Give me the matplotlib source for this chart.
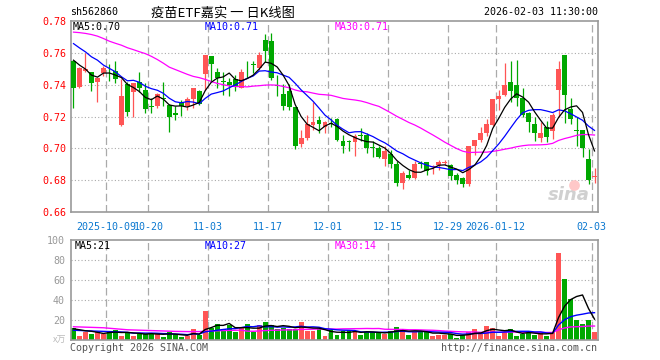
import numpy as np
import pandas as pd
import matplotlib
matplotlib.use('Agg')
import matplotlib.pyplot as plt
from matplotlib.transforms import blended_transform_factory

# ---------------- data ----------------
opens = [0.755, 0.7385, 0.7485, 0.7477, 0.7417, 0.7471, 0.7513, 0.7485, 0.7144, 0.7402,
         0.7352, 0.7415, 0.7367, 0.7265, 0.7267, 0.7317, 0.7273, 0.7225, 0.7288, 0.7267,
         0.7308, 0.736, 0.7465, 0.7577, 0.7477, 0.7419, 0.7415, 0.7433, 0.7381, 0.751,
         0.7529, 0.7506, 0.7683, 0.7673, 0.7398, 0.7344, 0.736, 0.7258, 0.7027, 0.7065,
         0.7148, 0.7175, 0.7133, 0.7158, 0.7183, 0.7044, 0.7042, 0.7037, 0.7079, 0.7081,
         0.7008, 0.7002, 0.6935, 0.6967, 0.6902, 0.6785, 0.6831, 0.6815, 0.6904, 0.6915,
         0.6883, 0.6898, 0.6908, 0.6898, 0.6833, 0.6815, 0.6779, 0.7013, 0.7052, 0.7096,
         0.7148, 0.731, 0.7335, 0.7415, 0.7398, 0.7315, 0.7225, 0.7152, 0.7065, 0.7133,
         0.7106, 0.7367, 0.7585, 0.7248, 0.7112, 0.7115, 0.6933, 0.6821]
closes = [0.738, 0.7505, 0.7498, 0.741, 0.7444, 0.7506, 0.7508, 0.7433, 0.7331, 0.7229,
          0.741, 0.7381, 0.7248, 0.726, 0.7344, 0.7313, 0.7198, 0.7211, 0.7267, 0.7308,
          0.7377, 0.7277, 0.7585, 0.7527, 0.744, 0.7415, 0.7398, 0.7388, 0.7481, 0.7508,
          0.7525, 0.7585, 0.761, 0.7444, 0.7394, 0.7267, 0.726, 0.7017, 0.7065, 0.7152,
          0.7165, 0.7154, 0.7165, 0.7152, 0.7054, 0.7017, 0.7038, 0.7077, 0.7075, 0.7002,
          0.7004, 0.6944, 0.6981, 0.6904, 0.6785, 0.6846, 0.6815, 0.6902, 0.69, 0.686,
          0.6892, 0.6915, 0.6913, 0.6829, 0.6798, 0.6779, 0.7013, 0.7052, 0.7096, 0.7152,
          0.731, 0.7329, 0.7398, 0.736, 0.7315, 0.721, 0.7165, 0.7096, 0.7096, 0.7069,
          0.721, 0.7498, 0.7335, 0.7185, 0.7108, 0.7002, 0.6798, 0.6825]
highs = [0.7555, 0.7508, 0.760, 0.7479, 0.7446, 0.7517, 0.7527, 0.7546, 0.7433, 0.7419,
         0.7412, 0.7477, 0.7408, 0.7315, 0.7348, 0.7415, 0.7277, 0.7263, 0.7304, 0.7325,
         0.7379, 0.7367, 0.7587, 0.7579, 0.7506, 0.7481, 0.744, 0.746, 0.7496, 0.7548,
         0.7548, 0.7606, 0.7717, 0.7727, 0.746, 0.7406, 0.7406, 0.726, 0.7117, 0.721,
         0.7294, 0.7206, 0.7169, 0.719, 0.719, 0.7081, 0.7054, 0.7088, 0.7129, 0.7096,
         0.7044, 0.7013, 0.7013, 0.6992, 0.6919, 0.6856, 0.6867, 0.6919, 0.6923, 0.6917,
         0.6894, 0.6929, 0.6929, 0.69, 0.6846, 0.6817, 0.7017, 0.7054, 0.7131, 0.7183,
         0.7312, 0.7367, 0.7533, 0.7548, 0.7558, 0.7381, 0.7227, 0.7198, 0.7165, 0.7169,
         0.7221, 0.755, 0.7587, 0.7315, 0.72, 0.7117, 0.6998, 0.6877]
lows = [0.7256, 0.738, 0.7478, 0.736, 0.7294, 0.7456, 0.7423, 0.7408, 0.714, 0.7206,
        0.72, 0.7352, 0.7221, 0.7225, 0.7252, 0.7269, 0.71, 0.718, 0.7204, 0.7242,
        0.7256, 0.7275, 0.7367, 0.7423, 0.7381, 0.7335, 0.7331, 0.7358, 0.7379, 0.744,
        0.7471, 0.7492, 0.7544, 0.7429, 0.7329, 0.7242, 0.7242, 0.6996, 0.7008, 0.7054,
        0.7117, 0.7096, 0.7096, 0.7133, 0.7044, 0.6971, 0.6981, 0.695, 0.7044, 0.6971,
        0.6944, 0.6942, 0.6892, 0.6877, 0.6763, 0.6742, 0.681, 0.6808, 0.6877, 0.6831,
        0.684, 0.6863, 0.6894, 0.68, 0.6779, 0.6758, 0.6763, 0.696, 0.704, 0.7075,
        0.714, 0.7242, 0.7329, 0.7294, 0.7263, 0.7196, 0.7102, 0.7048, 0.704, 0.704,
        0.706, 0.72, 0.7158, 0.7152, 0.7013, 0.6948, 0.6777, 0.6783]
volumes = [12.7, 4.3, 8.3, 6.3, 8.3, 6.7, 9.3, 10.3, 4.3, 8.7,
           4.3, 6.7, 6.7, 6.7, 6.7, 3.3, 8.3, 6.0, 3.3, 4.3,
           11.7, 5.3, 29.3, 12.7, 16.0, 11.0, 15.0, 8.3, 12.7, 16.3,
           8.3, 15.0, 18.7, 15.3, 11.3, 12.7, 11.7, 11.7, 18.7, 9.3,
           9.7, 11.0, 4.3, 10.0, 5.3, 9.3, 10.3, 9.3, 5.3, 8.3,
           8.3, 8.3, 6.7, 9.3, 13.3, 11.0, 5.3, 8.3, 8.3, 9.7,
           4.3, 5.3, 5.3, 6.7, 2.7, 5.3, 8.3, 11.7, 8.3, 14.3,
           12.7, 4.3, 8.3, 11.7, 4.3, 6.0, 8.3, 5.3, 8.3, 4.3,
           8.3, 87.5, 61.5, 41.0, 20.0, 16.0, 20.0, 8.5]

# moving-average values before enough history is shown
ma5_head = [0.7554, 0.7523, 0.7498, 0.746]
ma10_head = [0.7658, 0.7631, 0.7606, 0.7575, 0.7554, 0.7523, 0.7502, 0.7481, 0.745]
ma30_head = [0.7730, 0.7727, 0.7722, 0.7715, 0.7705, 0.7690, 0.7673, 0.7660, 0.7648, 0.7632,
             0.7620, 0.7607, 0.7595, 0.7578, 0.7558, 0.7535, 0.7510, 0.7495, 0.7480, 0.7465,
             0.7452, 0.7444, 0.7433, 0.7420, 0.7408, 0.7400, 0.7392, 0.7388, 0.7388]
vma5_head = [11.5, 10.5, 9.5, 9.0]
vma10_head = [10.0, 9.8, 9.5, 9.3, 9.1, 8.9, 8.7, 8.5, 8.3]
vma30_head = [13.5, 13.3, 13.1, 12.9, 12.7, 12.5, 12.0, 11.5, 11.0, 10.5,
              10.3, 10.1, 9.9, 9.7, 9.5, 9.3, 9.1, 8.9, 8.8, 8.7,
              8.7, 8.7, 9.0, 9.3, 9.5, 9.7, 9.9, 10.0, 10.2]

tick_idx = [6, 13, 23, 33, 43, 53, 63, 71, 87]
tick_labels = ['2025-10-09', '10-20', '11-03', '11-17', '12-01', '12-15',
               '12-29', '2026-01-12', '02-03']
price_ticks = [0.66, 0.68, 0.70, 0.72, 0.74, 0.76, 0.78]
vol_ticks = [20, 40, 60, 80, 100]

title = '疫苗ETF嘉实 一 日K线图'
code = 'sh562860'
stamp = '2026-02-03 11:30:00'

# ---------------- helpers ----------------
def mov(vals, n, head):
    s = pd.Series(vals, dtype=float).rolling(n).mean().to_numpy()
    s[:n - 1] = head
    return s

RED = '#ff5555'
GREEN = '#00a800'
GRID = '#aaaaaa'
FRAME = '#999999'
MONO = 'DejaVu Sans Mono'
FS = 7.2

n = len(closes)
x = np.arange(n)
o = np.array(opens); c = np.array(closes); h = np.array(highs); l = np.array(lows)
v = np.array(volumes)
up = c >= o
cols = np.where(up, RED, GREEN)

W, H = 660, 360
fig = plt.figure(figsize=(W / 100, H / 100), dpi=100)
fig.patch.set_facecolor('white')

def fx(px):
    return px / W

def fy(py):
    return 1 - py / H

ax = fig.add_axes([fx(70.5), fy(212), (597.5 - 70.5) / W, (212 - 21) / H])
axv = fig.add_axes([fx(70.5), fy(340.3), (597.5 - 70.5) / W, (340.3 - 240) / H])

for a in (ax, axv):
    a.set_xlim(-0.5, n - 0.5)
    for sp in a.spines.values():
        sp.set_color(FRAME)
        sp.set_linewidth(1.2)
    a.set_xticks([])
    a.tick_params(axis='y', length=0)
    for t in tick_idx:
        a.axvline(t - 0.5, color=GRID, lw=0.9, ls=(0, (6, 3)), zorder=0)

ax.set_ylim(0.66, 0.78)
for yv in price_ticks[1:-1]:
    ax.axhline(yv, color=GRID, lw=0.8, ls=(0, (1, 2)), zorder=0)
ax.set_yticks(price_ticks)
ax.set_yticklabels(['%.2f' % t for t in price_ticks], family=MONO, fontsize=FS, color='#ff0000')
ax.tick_params(axis='y', pad=3)

# candles
ax.vlines(x, l, h, colors=cols, lw=0.9, zorder=2)
body_h = np.maximum(np.abs(c - o), 0.0006)
ax.bar(x, body_h, bottom=np.minimum(o, c), width=0.82, color=cols, linewidth=0, zorder=3)

ma5 = mov(closes, 5, ma5_head)
ma10 = mov(closes, 10, ma10_head)
ma30 = mov(closes, 30, ma30_head)
ax.plot(x, ma30, color='#ff00ff', lw=0.9, zorder=4)
ax.plot(x, ma10, color='#0000ff', lw=0.9, zorder=4)
ax.plot(x, ma5, color='#000000', lw=0.9, zorder=5)

fig.text(fx(73), fy(26.5), 'MA5:%.2f' % ma5[-1], family=MONO, fontsize=FS, color='black', va='center')
fig.text(fx(205), fy(26.5), 'MA10:%.2f' % ma10[-1], family=MONO, fontsize=FS, color='#0000ff', va='center')
fig.text(fx(335), fy(26.5), 'MA30:%.2f' % ma30[-1], family=MONO, fontsize=FS, color='#ff00ff', va='center')

# x labels
tr = blended_transform_factory(ax.transData, fig.transFigure)
for t, lab in zip(tick_idx, tick_labels):
    ax.text(t - 0.5, fy(227.5), lab, transform=tr, family=MONO, fontsize=FS,
            color='#0b78d0', ha='center', va='center', clip_on=False)

# sina watermark
ax.text(0.985, 0.04, 'sina', transform=ax.transAxes, ha='right', va='bottom',
        fontsize=13, fontweight='bold', style='italic', color='#d0d0d0', zorder=1)
ax.scatter([0.955], [0.14], transform=ax.transAxes, s=60, color='#ffc8c8', zorder=1, linewidths=0)

# volume panel
axv.set_ylim(0, 100)
for yv in vol_ticks[:-1]:
    axv.axhline(yv, color=GRID, lw=0.8, ls=(0, (1, 2)), zorder=0)
axv.bar(x, v, width=0.82, color=cols, linewidth=0, zorder=2)
vma5 = mov(volumes, 5, vma5_head)
vma10 = mov(volumes, 10, vma10_head)
vma30 = mov(volumes, 30, vma30_head)
axv.plot(x, vma30, color='#ff00ff', lw=1.0, zorder=4)
axv.plot(x, vma10, color='#0000ff', lw=1.0, zorder=4)
axv.plot(x, vma5, color='#000000', lw=1.0, zorder=5)
axv.set_yticks(vol_ticks)
axv.set_yticklabels([str(t) for t in vol_ticks], family=MONO, fontsize=FS, color='#999999')
axv.tick_params(axis='y', pad=4)
fig.text(fx(66), fy(340), 'x万', family=['Noto Sans CJK SC', 'DejaVu Sans'], fontsize=6.5,
         color='#bbbbbb', ha='right', va='center')

fig.text(fx(75), fy(246), 'MA5:%d' % int(vma5[-1]), family=MONO, fontsize=FS, color='black', va='center')
fig.text(fx(205), fy(246), 'MA10:%d' % int(vma10[-1]), family=MONO, fontsize=FS, color='#0000ff', va='center')
fig.text(fx(335), fy(246), 'MA30:%d' % int(vma30[-1]), family=MONO, fontsize=FS, color='#ff00ff', va='center')

fig.text(fx(70), fy(348), 'Copyright 2026 SINA.COM', family=MONO, fontsize=FS, color='#555555', va='center')
fig.text(fx(597), fy(348), 'http://finance.sina.com.cn', family=MONO, fontsize=FS, color='#555555',
         va='center', ha='right')

# header
fig.text(fx(70), fy(12), code, family=MONO, fontsize=FS, color='black', va='center')
fig.text(fx(222.5), fy(13), title, family=['Noto Sans CJK SC', 'DejaVu Sans'], fontsize=9.5,
         color='black', va='center', ha='center')
fig.text(fx(598), fy(12), stamp, family=MONO, fontsize=FS, color='black', va='center', ha='right')

fig.savefig('out.png', dpi=100)
